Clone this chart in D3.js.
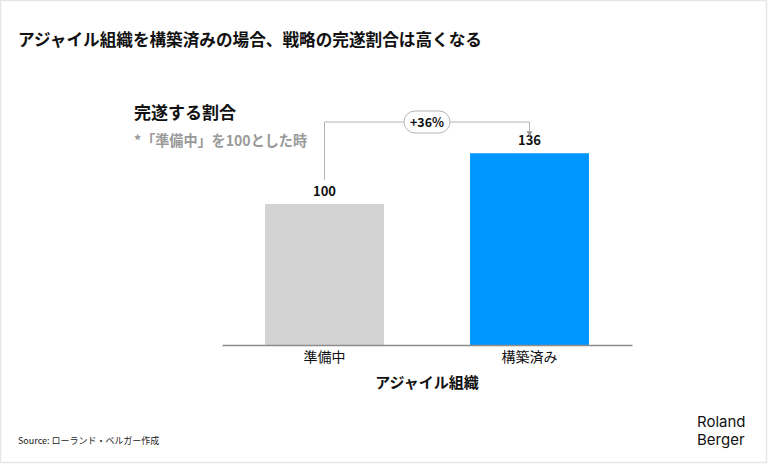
<!DOCTYPE html>
<html><head><meta charset="utf-8">
<script src="https://cdn.jsdelivr.net/npm/d3@7"></script>
<style>
html,body{margin:0;padding:0;background:#fff;}
svg{display:block;font-family:"Noto Sans CJK JP","Noto Sans",sans-serif;}
</style></head>
<body>
<script>
const categories = ["準備中", "構築済み"];
const values = [100, 136];
const barColors = ["#d3d3d3", "#0096ff"];
const changeLabel = "+36%";

const W = 768, H = 464;
const svg = d3.select("body").append("svg").attr("width", W).attr("height", H);

svg.append("rect").attr("x", 0.5).attr("y", 0.5).attr("width", W - 2).attr("height", H - 2)
  .attr("fill", "#fff").attr("stroke", "#e6e6e6").attr("stroke-width", 1.5);

svg.append("text").attr("x", 18).attr("y", 46).attr("font-size", 16.8).attr("font-weight", 700)
  .attr("fill", "#111").attr("textLength", 464).attr("lengthAdjust", "spacingAndGlyphs")
  .text("アジャイル組織を構築済みの場合、戦略の完遂割合は高くなる");

svg.append("text").attr("x", 134).attr("y", 119).attr("font-size", 17).attr("font-weight", 700)
  .attr("fill", "#111").text("完遂する割合");
svg.append("text").attr("x", 134).attr("y", 146).attr("font-size", 14.5).attr("font-weight", 700)
  .attr("fill", "#9a9a9a").attr("textLength", 173).attr("lengthAdjust", "spacingAndGlyphs")
  .text("*「準備中」を100とした時");

const baseY = 345;
const x = d3.scaleBand().domain(categories).range([222, 632]).paddingInner(0.42).paddingOuter(0.21);
const y = d3.scaleLinear().domain([0, 100]).range([baseY, 204]);

svg.selectAll("rect.bar").data(values).join("rect").attr("class", "bar")
  .attr("x", (d, i) => x(categories[i])).attr("width", x.bandwidth())
  .attr("y", d => y(d)).attr("height", d => baseY - y(d))
  .attr("fill", (d, i) => barColors[i]);

const xAxis = svg.append("g").attr("transform", `translate(0,${baseY})`)
  .call(d3.axisBottom(x).tickSize(0).tickPadding(7));
xAxis.select(".domain").attr("stroke", "#8c8c8c").attr("stroke-width", 1.5);
xAxis.selectAll("text").attr("font-size", 14).attr("fill", "#111")
  .attr("font-family", '"Noto Sans CJK JP",sans-serif');

svg.append("text").attr("x", 427).attr("y", 388).attr("text-anchor", "middle")
  .attr("font-size", 15).attr("font-weight", 700).attr("fill", "#111").text("アジャイル組織");

svg.selectAll("text.val").data(values).join("text").attr("class", "val")
  .attr("x", (d, i) => x(categories[i]) + x.bandwidth() / 2)
  .attr("y", d => y(d) - 8).attr("text-anchor", "middle")
  .attr("font-size", 13).attr("font-weight", 700).attr("fill", "#111").text(d => d);

// bracket
const cx0 = x(categories[0]) + x.bandwidth() / 2;
const cx1 = x(categories[1]) + x.bandwidth() / 2;
const by = 122;
svg.append("path").attr("d", `M${cx0},${y(values[0]) - 24}V${by}H${cx1}V${y(values[1]) - 20}`)
  .attr("fill", "none").attr("stroke", "#b5b5b5").attr("stroke-width", 1);
svg.append("path").attr("d", `M${cx1 - 3},${y(values[1]) - 22}L${cx1 + 3},${y(values[1]) - 22}L${cx1},${y(values[1]) - 17}Z`)
  .attr("fill", "#999");
const mid = (cx0 + cx1) / 2;
svg.append("rect").attr("x", mid - 23).attr("y", by - 11).attr("width", 46).attr("height", 22)
  .attr("rx", 11).attr("fill", "#fff").attr("stroke", "#b5b5b5").attr("stroke-width", 1);
svg.append("text").attr("x", mid).attr("y", by + 4.5).attr("text-anchor", "middle")
  .attr("font-size", 12.5).attr("font-weight", 700).attr("fill", "#111").text(changeLabel);

svg.append("text").attr("x", 18).attr("y", 444).attr("font-size", 9).attr("fill", "#222")
  .text("Source: ローランド・ベルガー作成");

svg.append("text").attr("x", 697).attr("y", 427).attr("font-size", 15).attr("font-weight", 400)
  .attr("fill", "#111").attr("font-family", "Inter, sans-serif").text("Roland");
svg.append("text").attr("x", 697).attr("y", 445).attr("font-size", 15).attr("font-weight", 400)
  .attr("fill", "#111").attr("font-family", "Inter, sans-serif").text("Berger");
</script>
</body></html>
